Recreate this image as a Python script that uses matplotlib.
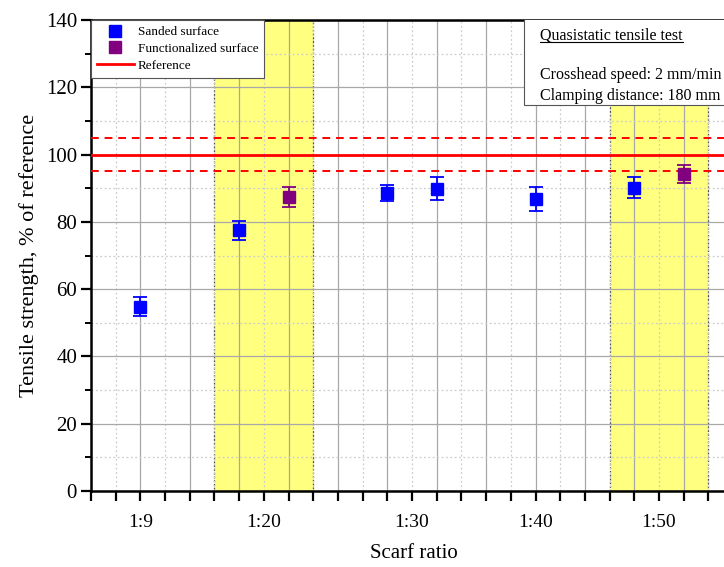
import numpy as np
import matplotlib.pyplot as plt
from matplotlib.lines import Line2D
from matplotlib.patches import Rectangle
from matplotlib.ticker import MultipleLocator, NullFormatter
import matplotlib.transforms as mtransforms

plt.rcParams['font.family'] = ['Liberation Serif', 'DejaVu Serif']

# scarf ratio categories and where they sit on the x scale
ratios = ["1:9", "1:20", "1:30", "1:40", "1:50"]
ratio_pos = [2, 7, 13, 18, 23]

# sanded surface: x position, strength (% of reference), std
sanded_x = [2, 6, 12, 14, 18, 22]
sanded_y = [54.8, 77.5, 88.5, 89.9, 86.8, 90.2]
sanded_err = [2.8, 2.9, 2.4, 3.4, 3.6, 3.1]

# functionalized surface
func_x = [8, 24]
func_y = [87.3, 94.2]
func_err = [3.0, 2.7]

ref_value = 100
ref_band = [95, 105]
highlight = [(5, 9), (21, 25)]

fig = plt.figure(figsize=(7.24, 5.67), dpi=100)
ax = fig.add_axes([0.1257, 0.134, 0.892, 0.8307])
ax.set_xlim(0, 26.15)
ax.set_ylim(0, 140)

for a, b in highlight:
    ax.axvspan(a, b, facecolor='#ffff80', edgecolor='#505050',
               linestyle=(0, (1.5, 1.5)), linewidth=0.9, zorder=1)

ax.xaxis.set_major_locator(MultipleLocator(2))
ax.xaxis.set_minor_locator(MultipleLocator(1))
ax.xaxis.set_major_formatter(NullFormatter())
ax.yaxis.set_major_locator(MultipleLocator(20))
ax.yaxis.set_minor_locator(MultipleLocator(10))

ax.grid(which='major', color='#a8a8a8', linewidth=0.9)
ax.grid(which='minor', color='#cccccc', linewidth=0.9, linestyle=(0, (1.5, 2)))

ax.tick_params(axis='x', which='both', direction='out', length=7, width=1.6)
ax.tick_params(axis='y', which='major', direction='out', length=7, width=1.6,
               labelsize=15, pad=3)
ax.tick_params(axis='y', which='minor', direction='out', length=4, width=1.4)
for s in ['left', 'bottom', 'top']:
    ax.spines[s].set_linewidth(1.8)

trans = mtransforms.blended_transform_factory(ax.transData, ax.transAxes)
for p, lab in zip(ratio_pos, ratios):
    ax.text(p, -0.066, lab, transform=trans, ha='center', va='center', fontsize=14)

ax.set_xlabel("Scarf ratio", fontsize=15, labelpad=28)
ax.set_ylabel("Tensile strength, % of reference", fontsize=16, labelpad=5)

ax.axhline(ref_value, color='red', linewidth=2, zorder=3)
for v in ref_band:
    ax.axhline(v, color='red', linewidth=1.4, linestyle=(0, (4, 3)), zorder=3)

ax.errorbar(sanded_x, sanded_y, yerr=sanded_err, fmt='s', color='blue',
            ms=8, capsize=5, elinewidth=1.3, capthick=1.3, zorder=5)
ax.errorbar(func_x, func_y, yerr=func_err, fmt='s', color='purple',
            ms=8, capsize=5, elinewidth=1.3, capthick=1.3, zorder=5)

handles = [
    Line2D([], [], marker='s', linestyle='none', color='blue', ms=8),
    Line2D([], [], marker='s', linestyle='none', color='purple', ms=8),
    Line2D([], [], color='red', linewidth=2),
]
leg = ax.legend(handles, ["Sanded surface", "Functionalized surface", "Reference"],
                loc='upper left', borderaxespad=0, fontsize=9.5, fancybox=False,
                framealpha=1, edgecolor='#555555', handlelength=2.8,
                labelspacing=0.35, borderpad=0.45, handletextpad=0.3)
leg.get_frame().set_linewidth(0.8)
leg.set_zorder(7)

ax.add_patch(Rectangle((17.55, 114.7), 20, 40, facecolor='white',
                       edgecolor='#555555', linewidth=0.8, zorder=6))
title = ax.text(18.2, 135.3, "Quasistatic tensile test", ha='left', va='center',
                fontsize=11.5, zorder=8)
ax.text(18.2, 123.7, "Crosshead speed: 2 mm/min", ha='left', va='center',
        fontsize=11.5, zorder=8)
ax.text(18.2, 117.4, "Clamping distance: 180 mm", ha='left', va='center',
        fontsize=11.5, zorder=8)

fig.canvas.draw()
bb = title.get_window_extent().transformed(ax.transData.inverted())
ax.plot([bb.x0, bb.x1], [bb.y0 + 0.5, bb.y0 + 0.5], color='black',
        linewidth=0.8, zorder=8)

fig.savefig("out.png", dpi=100)
